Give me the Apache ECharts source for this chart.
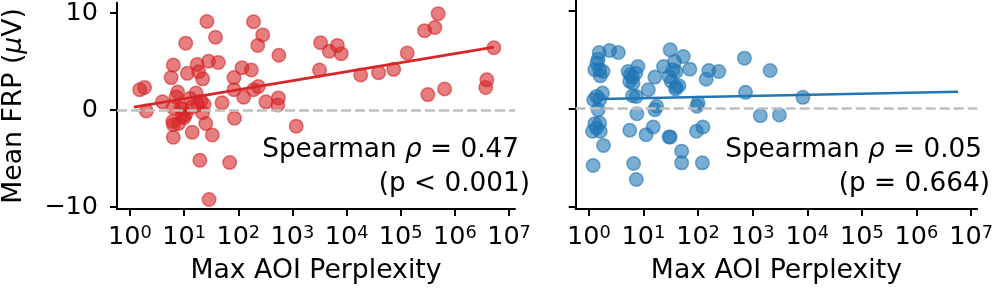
<!DOCTYPE html>
<html>
<head>
<meta charset="utf-8">
<script src="https://cdn.jsdelivr.net/npm/echarts@6/dist/echarts.min.js"></script>
<style>html,body{margin:0;padding:0;background:#fff;}#c{width:996px;height:290px;}</style>
</head>
<body>
<div id="c"></div>
<script>
// ---- data ----
const xTicks = [1, 10, 100, 1e3, 1e4, 1e5, 1e6, 1e7];
const yTicks = [-10, 0, 10];

const leftX = [1.51, 1.86, 2.0, 3.98, 5.75, 6.31, 7.59, 7.08, 6.31, 6.17, 6.31, 6.31, 9.33, 10.7, 9.33, 7.94,
  10.7, 11.5, 14.1, 13.8, 16.6, 17.4, 18.6, 21.9, 20.4, 21.9, 23.4, 25.1, 26.3, 28.2, 19.5, 28.8, 33.1, 38.0,
  42.7, 50.1, 83.2, 83.2, 85.1, 69.2, 117, 174, 126, 191, 234, 191, 282, 229, 324, 550, 537, 562, 1175,
  3311, 3162, 4786, 6761, 7943, 18200, 38900, 74100, 131800, 275400, 426600, 489800, 316200, 645700,
  3715000, 3890000, 5248000, 8.71, 10.0, 12.9, 17.8];
const leftY = [2.09, 2.33, -0.1, 0.84, 3.34, 4.63, 1.86, 1.35, 0.24, -1.18, -1.52, -2.8, -0.6, -0.44, 0.07, -1.39,
  6.89, 3.78, -2.3, 0.3, 1.76, 4.7, 3.95, 3.21, 0.91, -0.27, 0.57, -1.39, 9.12, 5.03, -5.17, -9.22, -2.57, 7.5,
  4.9, 0.74, 3.34, 2.09, -0.84, -5.41, 4.36, 4.12, 1.32, 2.09, 2.43, 9.09, 7.74, 6.66, 0.84, 1.25, 0.51, 5.64, -1.66,
  6.93, 4.12, 6.05, 6.66, 5.81, 3.61, 3.85, 4.19, 5.88, 8.18, 8.51, 9.93, 1.59, 2.16,
  2.33, 3.11, 6.42, 0.17, -0.78, 1.18, 0.51];

const rightX = [1.55, 1.48, 1.41, 1.29, 1.58, 1.82, 1.62, 2.40, 3.47, 1.78, 1.38, 1.23, 1.58, 1.48, 1.29, 1.58,
  1.38, 1.17, 1.62, 1.86, 1.20, 5.25, 6.31, 7.94, 7.24, 5.62, 6.46, 6.31, 7.41, 12.3, 16.2, 7.59, 5.62, 6.61,
  7.41, 11.2, 15.1, 17.4, 16.2, 30.9, 23.4, 29.5, 32.4, 39.8, 34.7, 37.2, 53.7, 39.8, 44.7, 29.5, 30.9, 50.1,
  50.1, 70.8, 95.5, 100, 93.3, 123, 120, 158, 240, 141, 708, 741, 2089, 1380, 3090, 8318, 38.9, 5.75];
const rightY = [5.71, 5.03, 4.63, 3.95, 3.95, 3.78, 3.34, 5.91, 5.71, 1.59, 1.25, 0.91, 0.91, -0.10, -1.52, -1.45,
  -1.96, -2.30, -2.30, -3.75, -5.78, 3.78, 3.21, 4.29, 3.61, 2.77, 2.60, 1.32, 1.25, 1.93, 3.21, -0.51, -2.20, -5.57,
  -7.20, -2.64, -1.86, 0.24, -0.10, 5.98, 4.29, 3.28, 2.77, 3.78, 3.95, 4.80, 5.30, 2.20, 2.33, -2.87, -2.87, -4.32,
  -5.51, 4.02, 0.24, 0.57, -2.30, -1.86, -5.51, 3.88, 3.78, 3.00, 5.14, 1.66, 3.88, -0.71, -0.64, 1.15, 2.00, 3.45];

const leftFitX = [1.18, 5248000];
const leftFitY = [0.30, 6.48];
const rightFitX = [1.70, 5754000];
const rightFitY = [0.98, 1.72];

const leftStat = ['Spearman {i|ρ} = 0.47', '(p < 0.001)'];
const rightStat = ['Spearman {i|ρ} = 0.05', '(p = 0.664)'];

const xName = 'Max AOI Perplexity';
const yName = 'Mean FRP ({i|μ}V)';

// ---- chart ----
const FONT = 'DejaVu Sans';
const RED = '#d62728', BLUE = '#1f77b4';
const xMin = 0.5754, xMax = 12880000;
const yMin = -10.2, yMax = 11.05;
const NAME_FS = 26.7, TICK_FS = 25.5, STAT_FS = 26.3;

function pairs(xs, ys) { return xs.map((x, i) => [x, ys[i]]); }

function makeX(gi) {
  return {
    type: 'log', logBase: 10, gridIndex: gi, min: xMin, max: xMax,
    name: xName, nameLocation: 'middle', nameGap: 49,
    nameTextStyle: { fontSize: NAME_FS, color: '#000', fontFamily: FONT },
    axisLine: { onZero: false, lineStyle: { color: '#000', width: 2 } },
    axisTick: { show: true, inside: false, length: 7, lineStyle: { color: '#000', width: 2 }, customValues: xTicks },
    axisLabel: {
      customValues: xTicks, margin: 15, color: '#000', fontSize: TICK_FS, fontFamily: FONT,
      formatter: v => '10{s|' + Math.round(Math.log10(v)) + '}',
      rich: { s: { fontSize: 17.8, fontFamily: FONT, color: '#000', verticalAlign: 'top', lineHeight: 12 } }
    },
    splitLine: { show: false }, minorTick: { show: false }
  };
}
function makeY(gi, showLabels) {
  return {
    type: 'value', gridIndex: gi, min: yMin, max: yMax,
    name: showLabels ? yName : '', nameLocation: 'middle', nameGap: 89,
    nameTextStyle: { fontSize: NAME_FS, color: '#000', fontFamily: FONT,
      rich: { i: { fontSize: NAME_FS, fontStyle: 'italic', fontFamily: FONT, color: '#000' } } },
    axisLine: { show: true, onZero: false, lineStyle: { color: '#000', width: 2 } },
    axisTick: { show: true, inside: false, length: 7, lineStyle: { color: '#000', width: 2 }, customValues: yTicks },
    axisLabel: {
      show: showLabels, customValues: yTicks, margin: 19, color: '#000', fontSize: TICK_FS, fontFamily: FONT,
      formatter: v => (v < 0 ? '\u2212' + (-v) : String(v))
    },
    splitLine: { show: false }
  };
}
function zeroLine(gi) {
  return {
    type: 'line', xAxisIndex: gi, yAxisIndex: gi, data: [], z: 1, silent: true,
    markLine: {
      silent: true, symbol: 'none', animation: false, label: { show: false },
      lineStyle: { type: [10, 4], color: '#bfbfbf', width: 2.5 },
      data: [{ yAxis: 0 }]
    }
  };
}
function scatter(gi, xs, ys, color) {
  return {
    type: 'scatter', xAxisIndex: gi, yAxisIndex: gi, data: pairs(xs, ys), z: 3,
    symbol: 'circle', symbolSize: 13.5,
    itemStyle: { color: color, opacity: 0.6, borderColor: color, borderWidth: 1.5 }
  };
}
function fit(gi, xs, ys, color) {
  return {
    type: 'line', xAxisIndex: gi, yAxisIndex: gi, data: pairs(xs, ys), z: 4,
    showSymbol: false, symbol: 'none', lineStyle: { color: color, width: 2.6 }
  };
}
function statText(x, y, text) {
  return {
    type: 'text', x: x, y: y, silent: true,
    style: {
      text: text, fill: '#000', font: STAT_FS + 'px "DejaVu Sans"', textAlign: 'right', textVerticalAlign: 'middle',
      rich: { i: { fontStyle: 'italic', fontSize: STAT_FS, fontFamily: FONT, fill: '#000' } }
    }
  };
}

const chart = echarts.init(document.getElementById('c'), null, { renderer: 'canvas' });
chart.setOption({
  animation: false,
  backgroundColor: '#fff',
  textStyle: { fontFamily: FONT },
  grid: [
    { left: 113, top: 0, width: 402, height: 209.5 },
    { left: 575.7, top: 0, width: 403.3, height: 209.5 }
  ],
  xAxis: [makeX(0), makeX(1)],
  yAxis: [makeY(0, true), makeY(1, false)],
  series: [
    zeroLine(0), zeroLine(1),
    scatter(0, leftX, leftY, RED), scatter(1, rightX, rightY, BLUE),
    fit(0, leftFitX, leftFitY, RED), fit(1, rightFitX, rightFitY, BLUE)
  ],
  graphic: [
    statText(519, 150, leftStat[0]), statText(530, 184, leftStat[1]),
    statText(982, 150, rightStat[0]), statText(990, 184, rightStat[1])
  ]
});
</script>
</body>
</html>
